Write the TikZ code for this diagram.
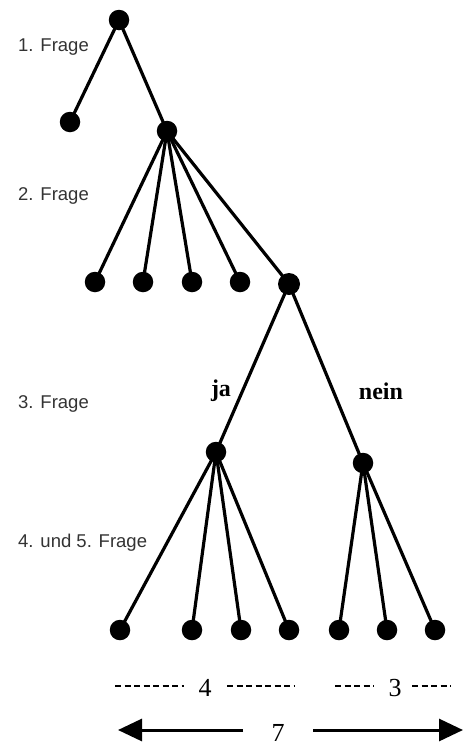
\documentclass[tikz,border=0pt]{standalone}
\usepackage{fontspec}
\setmainfont{Liberation Serif}
\setsansfont{Liberation Sans}
\usetikzlibrary{arrows.meta}
\begin{document}
\begin{tikzpicture}[x=1pt,y=-1pt,
  dot/.style={circle,fill=black,inner sep=0pt,minimum size=20.5pt},
  bigdot/.style={circle,fill=black,inner sep=0pt,minimum size=22pt},
  edge/.style={line width=3.2pt},
  qlabel/.style={font=\sffamily\fontsize{18.5}{20}\selectfont,anchor=west,text=black!80,inner sep=0pt},
  anslabel/.style={font=\bfseries\fontsize{24}{26}\selectfont,inner sep=0pt},
  numlabel/.style={font=\fontsize{26}{28}\selectfont,inner sep=0pt},
  dashline/.style={line width=2.8pt,dash pattern=on 6pt off 3.5pt},
  bigarrow/.style={line width=3pt,-{Triangle[length=24pt,width=22pt]}}]
\useasboundingbox (0,0) rectangle (475,747);
% nodes
\node[dot] (r) at (119,20) {};
\node[dot] (a1) at (70,122) {};
\node[dot] (a2) at (167,131) {};
\node[dot] (b1) at (95,282) {};
\node[dot] (b2) at (143,282) {};
\node[dot] (b3) at (192,282) {};
\node[dot] (b4) at (240,282) {};
\node[bigdot] (b5) at (289,284) {};
\node[dot] (ja) at (216,452) {};
\node[dot] (nein) at (363,463) {};
\node[dot] (c1) at (120,630) {};
\node[dot] (c2) at (192,630) {};
\node[dot] (c3) at (241,630) {};
\node[dot] (c4) at (289,630) {};
\node[dot] (c5) at (339,630) {};
\node[dot] (c6) at (387,630) {};
\node[dot] (c7) at (435,630) {};
% edges
\draw[edge] (r.center) -- (a1.center);
\draw[edge] (r.center) -- (a2.center);
\foreach \t in {b1,b2,b3,b4,b5} \draw[edge] (a2.center) -- (\t.center);
\draw[edge] (b5.center) -- (ja.center);
\draw[edge] (b5.center) -- (nein.center);
\foreach \t in {c1,c2,c3,c4} \draw[edge] (ja.center) -- (\t.center);
\foreach \t in {c5,c6,c7} \draw[edge] (nein.center) -- (\t.center);
% question labels
\node[qlabel] (q1) at (18,47) {1. Frage};
\node[qlabel] (q2) at (18,196) {2. Frage};
\node[qlabel] (q3) at (18,404) {3. Frage};
\node[qlabel] (q4) at (18,543) {4. und 5. Frage};
% answers
\node[anslabel] (lja) at (221,391) {ja};
\node[anslabel] (lnein) at (381,391) {nein};
% counts
\node[numlabel] (n4) at (205,688) {4};
\node[numlabel] (n3) at (395,688) {3};
\node[numlabel] (n7) at (278,733) {7};
\coordinate (d1a) at (115,686); \coordinate (d1b) at (184,686);
\coordinate (d2a) at (227,686); \coordinate (d2b) at (295,686);
\coordinate (d3a) at (335,686); \coordinate (d3b) at (374,686);
\coordinate (d4a) at (412,686); \coordinate (d4b) at (451,686);
\draw[dashline] (d1a) -- (d1b);
\draw[dashline] (d2a) -- (d2b);
\draw[dashline] (d3a) -- (d3b);
\draw[dashline] (d4a) -- (d4b);
\coordinate (la) at (243,730); \coordinate (lt) at (118,730);
\coordinate (ra) at (313,730); \coordinate (rt) at (463,730);
\draw[bigarrow] (la) -- (lt);
\draw[bigarrow] (ra) -- (rt);
\end{tikzpicture}
\end{document}
